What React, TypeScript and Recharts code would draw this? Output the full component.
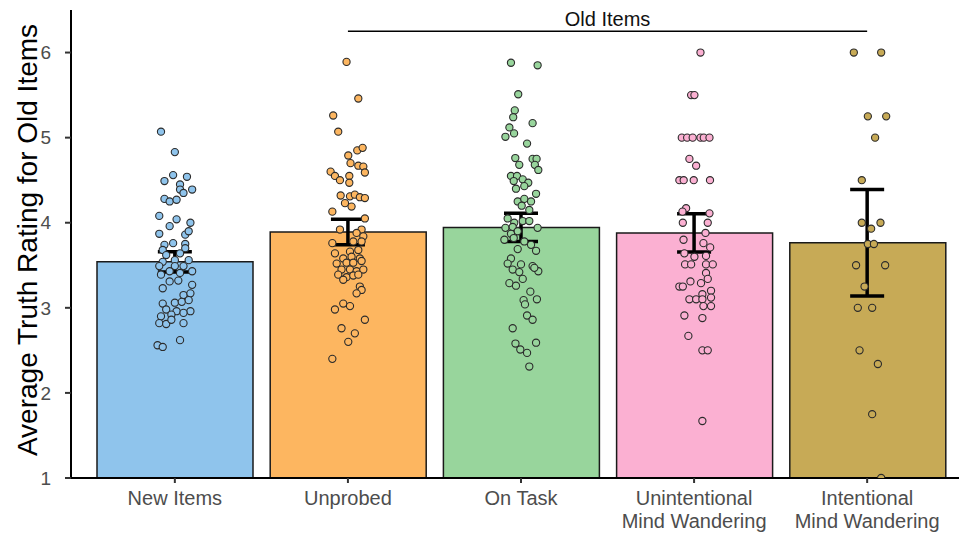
import React from 'react';
import { ComposedChart, Bar, Scatter, XAxis, YAxis, ErrorBar, ReferenceLine, Cell } from 'recharts';

const categories = [
  ['New Items'],
  ['Unprobed'],
  ['On Task'],
  ['Unintentional', 'Mind Wandering'],
  ['Intentional', 'Mind Wandering'],
];
const means = [3.54, 3.89, 3.945, 3.88, 3.765];
const sems = [0.12, 0.15, 0.165, 0.225, 0.625];
const colors = ['#8FC4EC', '#FDB660', '#98D59C', '#FBB0D2', '#C7AA56'];
const yTicks = [1, 2, 3, 4, 5, 6];

// jittered participant points: [x jitter, rating]
const newItemsPts = [
  [-0.08, 5.07], [0.0, 4.83], [-0.01, 4.56], [0.07, 4.54], [-0.06, 4.49], [0.03, 4.45], [0.03, 4.39], [0.1, 4.39],
  [0.05, 4.35], [-0.06, 4.28], [-0.03, 4.25], [0.01, 4.27], [-0.09, 4.08], [0.01, 4.04], [-0.03, 3.96], [0.09, 4.0],
  [-0.09, 3.87], [0.06, 3.86], [0.08, 3.9], [-0.06, 3.74], [-0.01, 3.76], [0.06, 3.75], [-0.07, 3.68], [0.06, 3.7],
  [-0.05, 3.62], [0.03, 3.64], [0.0, 3.56], [-0.07, 3.54], [0.08, 3.56], [-0.09, 3.49], [0.0, 3.49], [0.05, 3.49],
  [-0.03, 3.43], [0.03, 3.41], [0.1, 3.43], [-0.08, 3.39], [-0.03, 3.31], [0.02, 3.32], [-0.07, 3.23], [0.1, 3.27],
  [0.05, 3.15], [0.09, 3.17], [-0.07, 3.05], [0.0, 3.06], [0.04, 3.07], [0.08, 3.09], [-0.05, 2.98], [0.01, 2.96],
  [0.09, 2.96], [-0.08, 2.9], [-0.02, 2.92], [0.05, 2.94], [-0.09, 2.82], [-0.05, 2.81], [-0.02, 2.86], [0.05, 2.82],
  [-0.1, 2.56], [-0.07, 2.54], [0.03, 2.62],
];
const unprobedPts = [
  [-0.008, 5.89], [0.06, 5.46], [-0.085, 5.26], [-0.056, 5.07], [0.002, 4.79], [0.054, 4.85], [0.085, 4.88],
  [0.015, 4.7], [0.06, 4.67], [0.089, 4.66], [0.098, 4.59], [-0.1, 4.6], [-0.075, 4.55], [-0.046, 4.5],
  [0.008, 4.55], [0.008, 4.47], [-0.042, 4.32], [0.012, 4.31], [0.04, 4.33], [0.069, 4.3], [0.098, 4.29],
  [-0.017, 4.23], [0.021, 4.19], [-0.09, 4.13], [0.098, 4.05], [-0.046, 3.92], [0.079, 3.92], [0.05, 3.88],
  [0.089, 3.84], [-0.09, 3.76], [0.031, 3.78], [0.079, 3.78], [-0.075, 3.64], [0.012, 3.66], [0.06, 3.68],
  [-0.027, 3.58], [0.021, 3.6], [0.069, 3.58], [-0.065, 3.52], [-0.008, 3.53], [0.031, 3.53], [0.079, 3.55],
  [-0.037, 3.45], [0.012, 3.45], [0.05, 3.43], [0.089, 3.45], [-0.056, 3.39], [-0.008, 3.36], [0.031, 3.38],
  [0.06, 3.39], [-0.027, 3.33], [0.069, 3.25], [0.079, 3.21], [0.05, 3.17], [-0.027, 3.05], [0.012, 3.02],
  [-0.075, 2.98], [0.098, 2.86], [-0.037, 2.76], [0.04, 2.7], [0.002, 2.6], [-0.09, 2.4],
];
const onTaskPts = [
  [-0.058, 5.88], [0.096, 5.85], [-0.016, 5.51], [-0.036, 5.32], [-0.045, 5.24], [0.067, 5.17], [-0.067, 5.12],
  [-0.04, 5.05], [-0.09, 5.01], [0.035, 4.93], [-0.033, 4.76], [-0.01, 4.68], [0.067, 4.75], [0.09, 4.75],
  [0.08, 4.68], [0.1, 4.62], [-0.058, 4.55], [-0.023, 4.55], [-0.042, 4.49], [0.01, 4.51], [0.042, 4.47],
  [-0.029, 4.4], [0.019, 4.43], [0.087, 4.34], [-0.019, 4.25], [0.019, 4.28], [0.058, 4.25], [0.004, 4.2],
  [0.048, 4.15], [-0.077, 4.05], [-0.039, 4.0], [0.01, 4.02], [0.048, 4.02], [-0.09, 3.94], [-0.048, 3.95],
  [-0.019, 3.9], [0.096, 3.94], [-0.058, 3.87], [-0.096, 3.8], [-0.042, 3.82], [0.019, 3.78], [0.058, 3.74],
  [-0.019, 3.69], [0.087, 3.67], [-0.058, 3.58], [-0.077, 3.52], [0.0, 3.51], [0.067, 3.49], [-0.048, 3.45],
  [-0.01, 3.42], [0.1, 3.43], [0.077, 3.47], [0.01, 3.34], [-0.067, 3.29], [-0.029, 3.26], [0.054, 3.19],
  [0.015, 3.09], [0.092, 3.1], [0.023, 3.04], [0.035, 2.91], [0.067, 2.86], [-0.048, 2.76], [-0.032, 2.58],
  [0.087, 2.59], [-0.004, 2.51], [0.035, 2.47], [0.048, 2.31],
];
const unintentionalPts = [
  [0.037, 6.0], [-0.017, 5.5], [0.002, 5.5], [-0.071, 5.0], [-0.04, 5.0], [-0.008, 5.0], [0.037, 5.0],
  [0.056, 5.0], [0.089, 5.0], [-0.027, 4.75], [0.012, 4.67], [-0.085, 4.5], [-0.06, 4.5], [-0.002, 4.5],
  [0.092, 4.5], [-0.046, 4.17], [-0.067, 4.13], [0.089, 4.11], [-0.065, 4.0], [0.079, 4.0], [0.066, 3.88],
  [-0.061, 3.8], [0.054, 3.76], [0.093, 3.71], [-0.056, 3.64], [0.002, 3.6], [0.069, 3.61], [-0.052, 3.51],
  [-0.017, 3.51], [0.069, 3.51], [0.108, 3.51], [0.069, 3.41], [0.079, 3.34], [-0.085, 3.25], [-0.065, 3.25],
  [-0.021, 3.31], [0.04, 3.29], [0.098, 3.2], [0.048, 3.16], [-0.027, 3.1], [0.012, 3.1], [0.048, 3.1],
  [0.098, 3.12], [0.054, 3.02], [0.098, 3.02], [-0.056, 2.91], [0.048, 2.88], [-0.033, 2.67], [0.048, 2.5],
  [0.079, 2.5], [0.048, 1.67],
];
const intentionalPts = [
  [-0.077, 6.0], [0.081, 6.0], [0.004, 5.25], [0.11, 5.25], [0.046, 5.0], [-0.031, 4.5], [-0.031, 4.0],
  [0.077, 4.0], [0.023, 3.93], [0.004, 3.75], [0.039, 3.75], [-0.064, 3.5], [0.104, 3.5], [-0.015, 3.25],
  [-0.054, 3.0], [0.029, 3.0], [-0.044, 2.5], [0.062, 2.34], [0.029, 1.75], [0.081, 1.0],
];
const groupPts = [newItemsPts, unprobedPts, onTaskPts, unintentionalPts, intentionalPts];

// bracket over the old-item conditions
const bracketFrom = 2;
const bracketTo = 5;
const bracketY = 6.25;

const barData = means.map((m, i) => ({ x: i + 1, name: categories[i].join(' '), mean: m, err: sems[i] }));
const scatterData = groupPts.map((pts, i) => pts.map(([dx, v]) => ({ x: i + 1 + dx, y: v })));

const FONT = '"Liberation Sans", Arial, sans-serif';

const XTick = ({ x, y, payload }: any) => {
  const lines = categories[payload.value - 1] || [];
  return (
    <text x={x} y={y + 20} textAnchor="middle" fill="#4d4d4d" fontSize={20} fontFamily={FONT}>
      {lines.map((l, k) => (
        <tspan key={k} x={x} dy={k === 0 ? 0 : 23}>{l}</tspan>
      ))}
    </text>
  );
};

export default function App() {
  return (
    <div style={{ position: 'fixed', left: 0, top: 0, width: 959, height: 534, overflow: 'hidden', background: '#fff' }}>
      <ComposedChart
        width={975}
        height={534}
        data={barData}
        margin={{ top: 10, right: 4, bottom: 0, left: 0 }}
        style={{ fontFamily: FONT }}
      >
        <XAxis
          dataKey="x"
          type="number"
          domain={[0.4, 5.6]}
          ticks={[1, 2, 3, 4, 5]}
          allowDataOverflow
          height={56}
          tickSize={5}
          tick={<XTick />}
          axisLine={{ stroke: '#000', strokeWidth: 2 }}
          tickLine={{ stroke: '#333', strokeWidth: 2 }}
        />
        <XAxis xAxisId="cat" dataKey="name" type="category" hide padding={{ left: 17, right: 17 }} />
        <YAxis
          type="number"
          domain={[1, 6.5]}
          ticks={yTicks}
          allowDataOverflow
          width={71}
          tickSize={6}
          tickMargin={14}
          tick={{ fill: '#4d4d4d', fontSize: 19, fontFamily: FONT }}
          axisLine={{ stroke: '#000', strokeWidth: 2 }}
          tickLine={{ stroke: '#333', strokeWidth: 2 }}
          label={() => (
            <text
              x={27}
              y={240}
              transform="rotate(-90 27 240)"
              textAnchor="middle"
              dominantBaseline="central"
              fontSize={28}
              fill="#000"
              fontFamily={FONT}
            >
              Average Truth Rating for Old Items
            </text>
          )}
        />
        <Bar xAxisId="cat" dataKey="mean" barSize={156} stroke="#1a1a1a" strokeWidth={1.5} isAnimationActive={false}>
          {barData.map((d, i) => (
            <Cell key={i} fill={colors[i]} />
          ))}
        </Bar>
        {scatterData.map((pts, i) => (
          <Scatter
            key={i}
            data={pts}
            dataKey="y"
            isAnimationActive={false}
            shape={(p: any) => (
              <circle cx={p.cx} cy={p.cy} r={3.6} fill={colors[i]} stroke="#2b2b2b" strokeWidth={1.1} />
            )}
          />
        ))}
        <Scatter data={barData} dataKey="mean" isAnimationActive={false} shape={() => <g />}>
          <ErrorBar dataKey="err" direction="y" width={17} stroke="#000" strokeWidth={3.5} />
        </Scatter>
        <ReferenceLine
          segment={[{ x: bracketFrom, y: bracketY }, { x: bracketTo, y: bracketY }]}
          stroke="#000"
          strokeWidth={1.6}
          ifOverflow="visible"
          label={{ value: 'Old Items', position: 'top', fill: '#111', fontSize: 20, fontFamily: FONT }}
        />
      </ComposedChart>
    </div>
  );
}
